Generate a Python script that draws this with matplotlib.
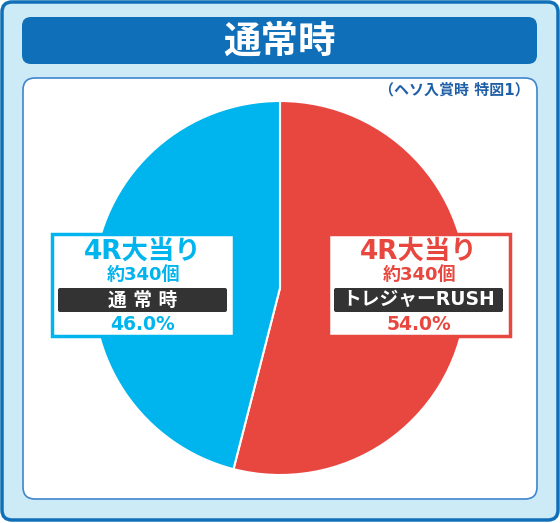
import matplotlib
matplotlib.use('Agg')
import matplotlib.pyplot as plt
from matplotlib.patches import FancyBboxPatch

plt.rcParams['font.family'] = ['Noto Sans CJK JP', 'DejaVu Sans']
WIDE = ['DejaVu Sans', 'Noto Sans CJK JP']  # 英数字を太く幅広に

# データ
title = '通常時'
note = '（ヘソ入賞時 特図1）'
labels = ['トレジャーRUSH', '通 常 時']
rounds = ['4R大当り', '4R大当り']
balls = ['約340個', '約340個']
shares = [54.0, 46.0]
colors = ['#E8473F', '#00B4EE']

W, H = 560, 523
fig = plt.figure(figsize=(W / 100, H / 100), dpi=100)
ax = fig.add_axes([0, 0, 1, 1])


def Y(y):  # 画像の上からの座標 -> 下からの座標
    return H - y


def rbox(x0, y0, x1, y1, r, fc, ec, lw, z):
    p = FancyBboxPatch((x0, Y(y1)), x1 - x0, y1 - y0,
                       boxstyle=f'round,pad=0,rounding_size={r}',
                       fc=fc, ec=ec, lw=lw, zorder=z)
    ax.add_patch(p)


# 外枠
rbox(2, 2, 558, 520, 10, '#CDEAF7', '#0F6FB8', 2.5, 0)
# タイトルバー
rbox(22, 17, 537, 64, 9, '#0F6FB8', 'none', 0, 1)
ax.text(280, Y(41), title, color='white', fontsize=27, fontweight='bold',
        ha='center', va='center', zorder=2)
# 内側パネル
rbox(23, 78, 537, 499, 12, 'white', '#3F86CE', 1.2, 1)
ax.text(530, Y(90), note, color='#1F5FA8', fontsize=10.8, fontweight='bold',
        ha='right', va='center', zorder=2, family=WIDE)

# 円グラフ
ax.pie(shares, colors=colors, startangle=90, counterclock=False,
       center=(280, Y(288)), radius=187,
       wedgeprops=dict(edgecolor='white', linewidth=1.5, zorder=3))
ax.set_xlim(0, W)
ax.set_ylim(0, H)
ax.set_aspect('equal')
ax.axis('off')

# ラベルボックス
boxes = [(328, 510), (52, 234)]
for i in range(len(shares)):
    x0, x1 = boxes[i]
    cx = (x0 + x1) / 2
    c = colors[i]
    ax.add_patch(plt.Rectangle((x0, Y(336)), x1 - x0, 336 - 234,
                               fc='white', ec=c, lw=2.5, zorder=5))
    ax.text(cx, Y(252), rounds[i], color=c, fontsize=19, fontweight='bold',
            ha='center', va='center', zorder=6, family=WIDE)
    ax.text(cx, Y(275), balls[i], color=c, fontsize=13, fontweight='bold',
            ha='center', va='center', zorder=6, family=WIDE)
    rbox(x0 + 6, 288, x1 - 7, 312, 2, '#333333', 'none', 0, 6)
    ax.text(cx, Y(300), labels[i], color='white', fontsize=13.5, fontweight='bold',
            ha='center', va='center', zorder=7, family=WIDE)
    ax.text(cx, Y(324), f'{shares[i]:.1f}%', color=c, fontsize=13.5,
            fontweight='bold', ha='center', va='center', zorder=6, family=WIDE)

fig.savefig('out.png', dpi=100)
